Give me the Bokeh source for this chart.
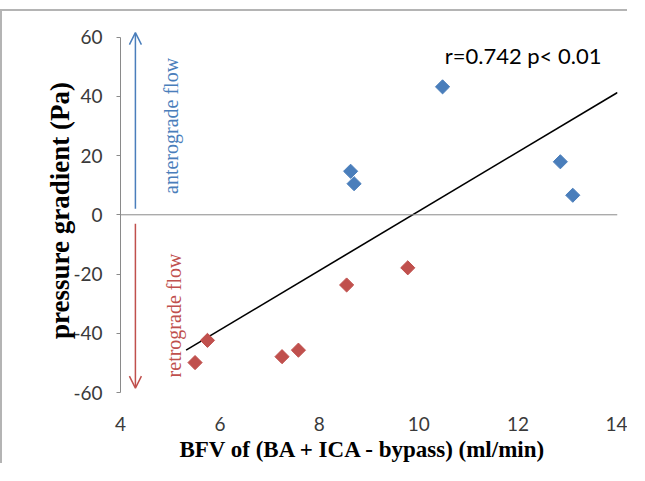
import numpy as np
from bokeh.plotting import figure
from bokeh.models import Range1d, FixedTicker, Span, Arrow, OpenHead, Label
from bokeh.embed import file_html
from bokeh.resources import INLINE

# ---- data ----
antero_x = [8.63, 8.70, 10.48, 12.85, 13.10]
antero_y = [14.7, 10.5, 43.2, 17.9, 6.6]
retro_x = [5.50, 5.75, 7.25, 7.58, 8.55, 9.78]
retro_y = [-49.9, -42.4, -47.9, -45.7, -23.7, -17.9]
trend_x = [5.32, 14.0]
trend_y = [-45.7, 41.3]
x_ticks = [4, 6, 8, 10, 12, 14]
y_ticks = [-60, -40, -20, 0, 20, 40, 60]
y_tick_labels = ["-60", "-40", "-20", "0", "20", "40", "60"]
annotation = "r=0.742 p< 0.01"

BLUE = "#4A7EBB"
RED = "#C0504D"
AXIS = "#8A8A8A"

p = figure(width=627, height=454, output_backend="svg", toolbar_location=None,
           x_range=Range1d(4, 14), y_range=Range1d(-60, 62.9),
           min_border_left=118, min_border_right=12,
           min_border_top=17, min_border_bottom=73,
           background_fill_color="white", border_fill_color="white")
p.outline_line_color = None
p.xgrid.visible = False
p.ygrid.visible = False
p.styles = {"border-top": "2px solid #b4b4b4", "border-left": "2px solid #b4b4b4",
            "margin-top": "9px"}

# y axis
ya = p.yaxis[0]
ya.ticker = FixedTicker(ticks=y_ticks)
ya.major_label_overrides = dict(zip(y_ticks, y_tick_labels))
ya.bounds = (-60, 60)
ya.axis_line_color = AXIS
ya.major_tick_line_color = AXIS
ya.major_tick_out = 4
ya.major_tick_in = 0
ya.minor_tick_line_color = None
ya.major_label_text_font = "Lato"
ya.major_label_text_font_size = "19px"
ya.major_label_text_color = "#3a3a3a"
ya.major_label_standoff = 14
ya.axis_label = "pressure gradient (Pa)"
ya.axis_label_text_font = "Liberation Serif"
ya.axis_label_text_font_style = "bold"
ya.axis_label_text_font_size = "27px"
ya.axis_label_text_color = "black"
ya.axis_label_standoff = -5

# x axis
xa = p.xaxis[0]
xa.ticker = FixedTicker(ticks=x_ticks)
xa.axis_line_color = None
xa.major_tick_line_color = None
xa.minor_tick_line_color = None
xa.major_tick_out = 0
xa.major_label_text_font = "Lato"
xa.major_label_text_font_size = "19px"
xa.major_label_text_color = "#3a3a3a"
xa.major_label_standoff = 24
xa.axis_label = "BFV of  (BA  + ICA - bypass) (ml/min)"
xa.axis_label_text_font = "Liberation Serif"
xa.axis_label_text_font_style = "bold"
xa.axis_label_text_font_size = "23px"
xa.axis_label_text_color = "black"
xa.axis_label_standoff = 3

# zero line
p.add_layout(Span(location=0, dimension="width", line_color=AXIS, line_width=1))

# trend line
p.line(trend_x, trend_y, line_color="black", line_width=1.6)

# points
p.scatter(antero_x, antero_y, marker="square", size=10, angle=np.pi / 4,
          fill_color=BLUE, line_color=BLUE)
p.scatter(retro_x, retro_y, marker="square", size=10, angle=np.pi / 4,
          fill_color=RED, line_color=RED)

# flow arrows
p.add_layout(Arrow(end=OpenHead(size=12, line_color=BLUE, line_width=1.5),
                   x_start=4.3, y_start=2, x_end=4.3, y_end=61.5,
                   line_color=BLUE, line_width=1.5))
p.add_layout(Arrow(end=OpenHead(size=12, line_color=RED, line_width=1.5),
                   x_start=4.3, y_start=-3, x_end=4.3, y_end=-58.5,
                   line_color=RED, line_width=1.5))

p.add_layout(Label(x=5.02, y=30, text="anterograde flow", angle=np.pi / 2,
                   text_align="center", text_baseline="middle",
                   text_font="Liberation Serif", text_font_size="20px",
                   text_color=BLUE))
p.add_layout(Label(x=5.08, y=-34, text="retrograde flow", angle=np.pi / 2,
                   text_align="center", text_baseline="middle",
                   text_font="Liberation Serif", text_font_size="20px",
                   text_color=RED))

p.add_layout(Label(x=12.1, y=53.75, text=annotation,
                   text_align="center", text_baseline="middle",
                   text_font="Lato", text_font_size="22px", text_color="black"))

open("out.html", "w").write(file_html(p, INLINE))
